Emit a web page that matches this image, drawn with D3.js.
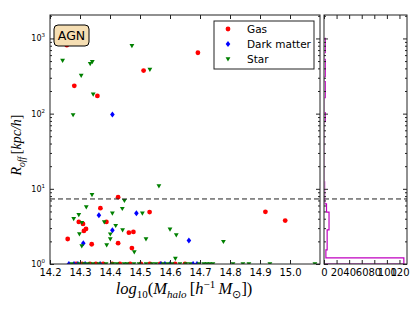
<!DOCTYPE html>
<html>
<head>
<meta charset="utf-8">
<script src="https://cdn.jsdelivr.net/npm/d3@7"></script>
<style>
body { margin: 0; background: #fff; }
text { font-family: "DejaVu Sans", sans-serif; }
</style>
</head>
<body>
<div id="chart"></div>
<script>
// log10 halo mass and offset (kpc/h) of each cluster, one pair of arrays per tracer
var gasMass = [14.256, 14.281, 14.358, 14.512, 14.693,
    14.259, 14.296, 14.310, 14.313, 14.320, 14.339, 14.368, 14.388, 14.427, 14.427,
    14.463, 14.478, 14.473, 14.532, 14.918, 14.984,
    14.287, 14.307, 14.333, 14.353, 14.377, 14.407, 14.433, 14.467, 14.503, 14.533,
    14.567, 14.617, 14.650];
var gasR = [813, 234, 172, 374, 645,
    2.15, 3.63, 3.41, 2.75, 2.93, 1.83, 5.53, 3.63, 7.75, 1.89,
    2.61, 2.67, 1.63, 4.9, 4.94, 3.78,
    1, 1, 1, 1, 1, 1, 1, 1, 1, 1, 1, 1, 1];

var dmMass = [14.408, 14.311, 14.363, 14.408, 14.488, 14.663,
    14.263, 14.280, 14.293, 14.317, 14.367, 14.570, 14.583, 14.600, 14.677, 14.690];
var dmR = [97, 1.89, 4.46, 2.81, 4.74, 2.05,
    1, 1, 1, 1, 1, 1, 1, 1, 1, 1];

var starMass = [14.242, 14.304, 14.334, 14.341, 14.344, 14.277, 14.473, 14.533,
    14.279, 14.296, 14.306, 14.298, 14.306, 14.321, 14.340, 14.381, 14.389, 14.401,
    14.401, 14.408, 14.419, 14.441, 14.442, 14.448, 14.481, 14.508, 14.520, 14.563,
    14.600, 14.621, 14.618, 14.778,
    14.273, 14.297, 14.313, 14.327, 14.343, 14.363, 14.387, 14.410, 14.423, 14.447,
    14.457, 14.480, 14.497, 14.520, 14.540, 14.553, 14.577, 14.593, 14.607, 14.633,
    14.653, 14.667, 14.697, 14.713, 14.723, 14.733, 14.743, 14.810, 14.843, 14.863,
    14.933, 15.083];
var starR = [509, 321, 460, 489, 181, 96, 799, 386,
    4.0, 4.5, 3.54, 2.5, 1.73, 5.7, 8.3, 3.6, 1.79, 2.49,
    2.15, 4.72, 3.23, 5.44, 2.83, 6.95, 1.44, 4.72, 2.15, 10.9,
    2.9, 2.43, 1.18, 1.98,
    1, 1, 1, 1, 1, 1, 1, 1, 1, 1,
    1, 1, 1, 1, 1, 1, 1, 1, 1, 1,
    1, 1, 1, 1, 1, 1, 1, 1, 1, 1,
    1, 1];

// side histogram of all offsets (bin edges in kpc/h, counts)
var histEdges = [1, 1.21, 1.54, 2.84, 4.9, 6.3, 12.4, 78, 103, 163, 266, 311, 526, 645, 1000];
var histCounts = [127, 3, 5, 8, 4, 1, 0, 2, 0, 2, 0, 2, 0, 2];

var cut = 7.33;

var xTicks = [14.2, 14.3, 14.4, 14.5, 14.6, 14.7, 14.8, 14.9, 15.0];
var yTicks = [1, 10, 100, 1000];
var hTicks = [0, 20, 40, 60, 80, 100, 120];
var legendNames = ["Gas", "Dark matter", "Star"];

var width = 415, height = 312;
var svg = d3.select("#chart").append("svg")
    .attr("width", width)
    .attr("height", height);

var x = d3.scaleLinear().domain([14.2, 15.1]).range([50, 320]);
var y = d3.scaleLog().domain([1, 2050]).range([264, 15]);
var hx = d3.scaleLinear().domain([0, 132]).range([324, 407]);

var minorY = [];
[1, 10, 100, 1000].forEach(function(d) {
    for (var k = 2; k < 10; k++) if (d * k < 2050) minorY.push(d * k);
});

svg.append("clipPath").attr("id", "clipMain")
    .append("rect").attr("x", 50).attr("y", 15).attr("width", 270).attr("height", 249);
svg.append("clipPath").attr("id", "clipHist")
    .append("rect").attr("x", 324.6).attr("y", 15).attr("width", 83).attr("height", 249);

// scatter points
var pts = svg.append("g").attr("clip-path", "url(#clipMain)");

pts.selectAll(".gas").data(d3.range(gasMass.length)).enter()
    .append("circle")
    .attr("cx", i => x(gasMass[i]))
    .attr("cy", i => y(gasR[i]))
    .attr("r", 2.4)
    .attr("fill", "#ff0000");

pts.selectAll(".dm").data(d3.range(dmMass.length)).enter()
    .append("path")
    .attr("d", "M0,-3L2.3,0L0,3L-2.3,0Z")
    .attr("transform", i => "translate(" + x(dmMass[i]) + "," + y(dmR[i]) + ")")
    .attr("fill", "#0000ff");

pts.selectAll(".star").data(d3.range(starMass.length)).enter()
    .append("path")
    .attr("d", "M-2.4,-1.8L2.4,-1.8L0,2.4Z")
    .attr("transform", i => "translate(" + x(starMass[i]) + "," + y(starR[i]) + ")")
    .attr("fill", "#008000");

// dashed cut line in both panels
[[50, 320], [324, 407]].forEach(function(r) {
    svg.append("line")
        .attr("x1", r[0]).attr("x2", r[1])
        .attr("y1", y(cut)).attr("y2", y(cut))
        .attr("stroke", "#222").attr("stroke-width", 1)
        .attr("stroke-dasharray", "5,3");
});

// histogram outline (horizontal steps)
var stepPts = [[0, histEdges[0]]];
histCounts.forEach(function(c, i) {
    stepPts.push([c, histEdges[i]]);
    stepPts.push([c, histEdges[i + 1]]);
});
stepPts.push([0, histEdges[histEdges.length - 1]]);
svg.append("path")
    .attr("clip-path", "url(#clipHist)")
    .attr("d", d3.line().x(d => hx(d[0])).y(d => y(d[1]))(stepPts))
    .attr("fill", "none")
    .attr("stroke", "#c000c0")
    .attr("stroke-width", 1.2);

// axes: ticks point inwards on every side
function axes(xs, xt, x0, x1) {
    var g = svg.append("g").attr("font-size", 8);
    g.append("g").attr("transform", "translate(0,264)")
        .call(d3.axisBottom(xs).tickValues(xt).tickSize(-4).tickPadding(5)
            .tickFormat(xs === x ? d3.format(".1f") : d3.format("d")));
    g.append("g").attr("transform", "translate(0,15)")
        .call(d3.axisTop(xs).tickValues(xt).tickSize(-4).tickFormat(""));
    g.append("g").attr("transform", "translate(" + x0 + ",0)")
        .call(d3.axisLeft(y).tickValues(yTicks).tickSize(-4).tickFormat(""));
    g.append("g").attr("transform", "translate(" + x0 + ",0)")
        .call(d3.axisLeft(y).tickValues(minorY).tickSize(-2).tickFormat(""));
    g.append("g").attr("transform", "translate(" + x1 + ",0)")
        .call(d3.axisRight(y).tickValues(yTicks).tickSize(-4).tickFormat(""));
    g.append("g").attr("transform", "translate(" + x1 + ",0)")
        .call(d3.axisRight(y).tickValues(minorY).tickSize(-2).tickFormat(""));
    g.selectAll(".domain").remove();
    g.selectAll("line").attr("stroke", "#222");
    g.selectAll("text").attr("fill", "#000").style("font-family", "DejaVu Sans");
    svg.append("rect").attr("x", x0).attr("y", 15)
        .attr("width", x1 - x0).attr("height", 249)
        .attr("fill", "none").attr("stroke", "#222").attr("stroke-width", 1);
}
axes(x, xTicks, 50, 320);
axes(hx, hTicks, 324, 407);

// y tick labels as 10^n
yTicks.forEach(function(v) {
    var t = svg.append("text")
        .attr("x", 45).attr("y", y(v) + 3)
        .attr("text-anchor", "end")
        .attr("font-size", 8);
    t.append("tspan").text("10");
    t.append("tspan").attr("dy", -4).attr("font-size", 5.5).text(Math.round(Math.log10(v)));
});

// axis titles
var xt = svg.append("text")
    .attr("x", 184).attr("y", 294)
    .attr("text-anchor", "middle")
    .style("font-family", "Liberation Serif")
    .attr("font-size", 16.5);
xt.append("tspan").attr("font-style", "italic").text("log");
xt.append("tspan").attr("dy", 4).attr("font-size", 11).text("10");
xt.append("tspan").attr("dy", -4).text("(");
xt.append("tspan").attr("font-style", "italic").text("M");
xt.append("tspan").attr("dy", 4).attr("font-size", 11).attr("font-style", "italic").text("halo");
xt.append("tspan").attr("dy", -4).text("\u2009[");
xt.append("tspan").attr("font-style", "italic").text("h");
xt.append("tspan").attr("dy", -6).attr("font-size", 11).text("\u22121");
xt.append("tspan").attr("dy", 6).attr("font-style", "italic").text("\u2009M");
xt.append("tspan").attr("dy", 4).attr("font-size", 11).text("\u2299");
xt.append("tspan").attr("dy", -4).text("])");

var yt = svg.append("text")
    .attr("transform", "translate(21,145) rotate(-90)")
    .attr("text-anchor", "middle")
    .style("font-family", "Liberation Serif")
    .attr("font-size", 14);
yt.append("tspan").attr("font-style", "italic").text("R");
yt.append("tspan").attr("dy", 4).attr("font-size", 9.5).attr("font-style", "italic").text("off");
yt.append("tspan").attr("dy", -4).text("\u2009[");
yt.append("tspan").attr("font-style", "italic").text("kpc/h");
yt.append("tspan").text("]");

// AGN label box
svg.append("rect")
    .attr("x", 54).attr("y", 25).attr("width", 35).attr("height", 21)
    .attr("rx", 4)
    .attr("fill", "#f5deb3").attr("stroke", "#000").attr("stroke-width", 1);
svg.append("text")
    .attr("x", 71.5).attr("y", 40)
    .attr("text-anchor", "middle")
    .attr("font-size", 12.5)
    .text("AGN");

// legend
var leg = svg.append("g");
leg.append("rect")
    .attr("x", 214).attr("y", 21).attr("width", 100).attr("height", 48)
    .attr("fill", "#fff").attr("stroke", "#222").attr("stroke-width", 1);
legendNames.forEach(function(name, i) {
    var ly = 29 + i * 15;
    if (i === 0) leg.append("circle").attr("cx", 228).attr("cy", ly).attr("r", 2.4).attr("fill", "#ff0000");
    if (i === 1) leg.append("path").attr("d", "M0,-3L2.3,0L0,3L-2.3,0Z")
        .attr("transform", "translate(228," + ly + ")").attr("fill", "#0000ff");
    if (i === 2) leg.append("path").attr("d", "M-2.4,-1.8L2.4,-1.8L0,2.4Z")
        .attr("transform", "translate(228," + ly + ")").attr("fill", "#008000");
    leg.append("text")
        .attr("x", 247).attr("y", ly + 3.8)
        .attr("font-size", 10.5)
        .text(name);
});
</script>
</body>
</html>
